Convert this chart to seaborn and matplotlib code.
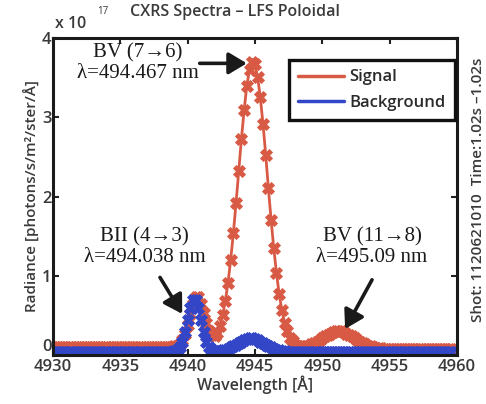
import numpy as np
import pandas as pd
import matplotlib
matplotlib.use("Agg")
import matplotlib.pyplot as plt
import seaborn as sns
from matplotlib.lines import Line2D

# ---- data (radiance in units of 1e17 photons/s/m^2/ster/A) ----
wavelength = np.round(np.linspace(4930.0, 4959.6, 149), 1)

signal = [
    0.10, 0.10, 0.10, 0.10, 0.10, 0.10, 0.10, 0.10, 0.10, 0.10,
    0.10, 0.10, 0.10, 0.10, 0.10, 0.10, 0.10, 0.10, 0.10, 0.10,
    0.10, 0.10, 0.10, 0.10, 0.10, 0.10, 0.10, 0.10, 0.10, 0.10,
    0.10, 0.10, 0.10, 0.10, 0.10, 0.10, 0.10, 0.10, 0.10, 0.10,
    0.10, 0.10, 0.10, 0.10, 0.10,
    0.11, 0.12, 0.14, 0.19, 0.27, 0.38, 0.52, 0.65, 0.73, 0.73,
    0.65, 0.53, 0.40, 0.31, 0.25, 0.24, 0.28, 0.37, 0.50, 0.68,
    0.91, 1.20, 1.54, 1.92, 2.32, 2.73, 3.09, 3.40, 3.60, 3.70,
    3.67, 3.51, 3.25, 2.92, 2.53, 2.11, 1.71, 1.35, 1.04, 0.77,
    0.57, 0.41, 0.30, 0.22, 0.18, 0.13, 0.12, 0.11, 0.11, 0.11,
    0.12, 0.14, 0.15, 0.17, 0.19, 0.21, 0.24, 0.26, 0.27, 0.29,
    0.30, 0.30, 0.30, 0.29, 0.27, 0.26, 0.24, 0.21, 0.19, 0.17,
    0.15, 0.14, 0.12, 0.11, 0.10, 0.09, 0.09, 0.09, 0.08,
    0.08, 0.08, 0.08, 0.08, 0.08, 0.08, 0.08, 0.08, 0.08, 0.08,
    0.08, 0.08, 0.08, 0.08, 0.08, 0.08, 0.08, 0.08, 0.08, 0.08,
    0.08, 0.08, 0.08, 0.08, 0.08,
]

background = [
    0.04, 0.04, 0.04, 0.04, 0.04, 0.04, 0.04, 0.04, 0.04, 0.04,
    0.04, 0.04, 0.04, 0.04, 0.04, 0.04, 0.04, 0.04, 0.04, 0.04,
    0.04, 0.04, 0.04, 0.04, 0.04, 0.04, 0.04, 0.04, 0.04, 0.04,
    0.04, 0.04, 0.04, 0.04, 0.04, 0.04, 0.04, 0.04, 0.04, 0.04,
    0.04, 0.04, 0.04, 0.04, 0.04,
    0.05, 0.06, 0.10, 0.17, 0.29, 0.44, 0.59, 0.69, 0.69, 0.59,
    0.44, 0.29, 0.17, 0.10, 0.06, 0.05, 0.05, 0.05, 0.06, 0.07,
    0.08, 0.10, 0.11, 0.13, 0.15, 0.17, 0.19, 0.20, 0.21, 0.21,
    0.20, 0.19, 0.17, 0.15, 0.13, 0.11, 0.10, 0.08, 0.07, 0.06,
    0.05, 0.05, 0.04,
    0.04, 0.04, 0.04, 0.04, 0.04, 0.04, 0.04, 0.04, 0.04, 0.04,
    0.04, 0.04, 0.04, 0.04, 0.04, 0.04, 0.04, 0.04, 0.04, 0.04,
    0.04, 0.04, 0.04, 0.04, 0.04, 0.04, 0.04, 0.04, 0.04, 0.04,
    0.04, 0.04, 0.04, 0.04, 0.04, 0.04, 0.04, 0.04, 0.04, 0.04,
    0.04, 0.04, 0.04, 0.04, 0.04, 0.04, 0.04, 0.04, 0.04, 0.04,
    0.04, 0.04, 0.04, 0.04, 0.04, 0.04, 0.04, 0.04, 0.04, 0.04,
    0.04,
]

series_names = ["Signal", "Background"]
x_ticks = [4930, 4935, 4940, 4945, 4950, 4955, 4960]
y_ticks = [0, 1, 2, 3, 4]

annotations = [
    ("BV (7\u21926)\n\u03bb=494.467 nm", (4936.3, 3.68), (4940.9, 3.68), (4944.4, 3.68)),
    ("BII (4\u21923)\n\u03bb=494.038 nm", (4936.8, 1.36), (4937.95, 0.98), (4939.6, 0.52)),
    ("BV (11\u21928)\n\u03bb=495.09 nm", (4953.7, 1.36), (4953.7, 0.95), (4951.7, 0.33)),
]

# ---- build frame ----
df = pd.concat([
    pd.DataFrame({"wavelength": wavelength, "radiance": signal, "series": "Signal"}),
    pd.DataFrame({"wavelength": wavelength, "radiance": background, "series": "Background"}),
])

sns.set_style("ticks")
plt.rcParams["font.family"] = ["Open Sans", "DejaVu Sans"]

red = "#d85a45"
blue = "#3446c8"
palette = {"Signal": red, "Background": blue}

fig = plt.figure(figsize=(4.86, 4.04), dpi=100)
ax = fig.add_axes([0.109, 0.121, 0.831, 0.785])

sns.lineplot(data=df, x="wavelength", y="radiance", hue="series",
             hue_order=series_names, palette=palette, ax=ax, legend=False,
             marker="X", markersize=8.5, markeredgewidth=0.6, linewidth=2,
             sort=True, estimator=None)
for ln, c in zip(ax.get_lines(), [red, blue]):
    ln.set_markeredgecolor(c)

ax.set_xlim(4930, 4960)
ax.set_ylim(0, 4)
ax.set_xticks(x_ticks)
ax.set_yticks(y_ticks)
ax.set_xticklabels([str(t) for t in x_ticks])
ax.set_yticklabels([str(t) for t in y_ticks])

tick_color = "#3a3a3a"
ax.tick_params(axis="both", which="both", direction="in", length=4, width=1.5,
               top=True, right=True, colors="#222222", labelcolor=tick_color,
               labelsize=12)
ax.tick_params(axis="x", pad=3)
ax.tick_params(axis="y", pad=1)
for lab in ax.get_xticklabels() + ax.get_yticklabels():
    lab.set_fontweight("semibold")
# the "0" label sits just above the corner, as in the reference
ax.get_yticklabels()[0].set_verticalalignment("bottom")
for sp in ax.spines.values():
    sp.set_visible(True)
    sp.set_linewidth(2.2)
    sp.set_color("#1a1a1a")

ax.set_xlabel("Wavelength [\u00c5]", fontsize=11.5, fontweight="semibold",
              color=tick_color, labelpad=0)
ax.set_ylabel("Radiance [photons/s/m\u00b2/ster/\u00c5]", fontsize=11,
              fontweight="semibold", color=tick_color, labelpad=2)

# legend
handles = [Line2D([0], [0], color=red, lw=2.5), Line2D([0], [0], color=blue, lw=2.5)]
leg = ax.legend(handles, series_names, loc="upper right",
                bbox_to_anchor=(0.995, 0.93), borderaxespad=0, frameon=True,
                fancybox=False, framealpha=1, handlelength=2.8,
                handletextpad=0.3, borderpad=0.55, labelspacing=0.55,
                prop={"size": 12, "weight": "semibold"})
leg.get_frame().set_edgecolor("#111111")
leg.get_frame().set_linewidth(2.4)
for t in leg.get_texts():
    t.set_color("#2a2a2a")

# annotations
for text, txy, start, tip in annotations:
    ax.text(txy[0], txy[1], text, ha="center", va="center",
            fontsize=15, family=["Liberation Serif", "DejaVu Serif"],
            color="#1a1a1a", linespacing=1.1)
    ax.annotate("", xy=tip, xytext=start,
                arrowprops=dict(arrowstyle="-|>,head_length=0.5,head_width=0.3",
                                lw=2.6, color="#1a1a1a",
                                mutation_scale=22, shrinkA=0, shrinkB=0))

# title and exponent
fig.text(235 / 486, 1 - 12 / 404, "CXRS Spectra \u2013 LFS Poloidal", ha="center",
         va="center", fontsize=11.5, fontweight="semibold", color=tick_color)
fig.text(55 / 486, 1 - 24 / 404, "x 10", ha="left", va="center",
         fontsize=11.5, fontweight="semibold", color=tick_color)
fig.text(97 / 486, 1 - 12 / 404, "17", ha="left", va="center",
         fontsize=7, color=tick_color)
fig.text(478 / 486, 1 - 190 / 404, "Shot: 1120621010  Time:1.02s \u20131.02s",
         ha="center", va="center", rotation=90, fontsize=11,
         fontweight="semibold", color=tick_color)

fig.savefig("out.png", dpi=100, facecolor="white")
